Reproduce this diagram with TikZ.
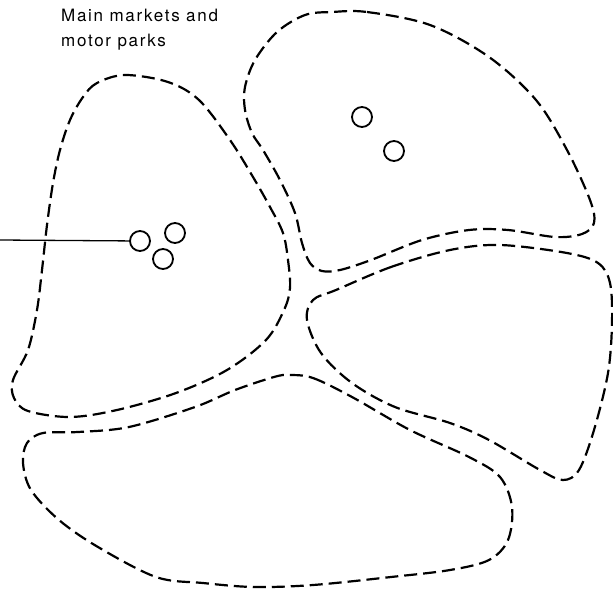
\documentclass[tikz,border=0pt]{standalone}
\usepackage{fontspec}
\newfontfamily\labelfont[LetterSpace=10]{TeX Gyre Heros}
\begin{document}
\begin{tikzpicture}[x=1pt, y=-1pt]
  \tikzset{zone/.style={line width=2.2pt, dash pattern=on 13pt off 6pt},
           mkt/.style={draw, circle, line width=1.8pt, minimum size=20pt, inner sep=0pt}}
  \useasboundingbox (0,0) rectangle (613,590);
  \node[anchor=base west, align=left, inner sep=0pt, font=\labelfont\fontsize{17}{25}\selectfont] (lbl) at (61,46.7) {Main markets and\\motor parks};
  \draw[zone] plot[smooth cycle, tension=0.55] coordinates {(125,75) (97,83) (83,97) (70,120) (60,150) (53,183) (47,225) (42,270) (37,310) (28,350) (13,380) (14,398) (28,411) (70,417) (117,410) (176,393) (227,370) (266,340) (284,310) (290,288) (288,260) (283,233) (270,207) (253,177) (230,140) (199,100) (168,82)};
  \draw[zone] plot[smooth cycle, tension=0.55] coordinates {(332,12) (367,12) (430,25) (489,57) (536,100) (567,150) (590,200) (594,223) (582,234) (555,237) (508,230) (469,230) (422,240) (371,260) (340,270) (322,271) (310,263) (302,243) (295,213) (280,180) (263,150) (252,133) (245,110) (245,87) (255,60) (277,32) (305,15)};
  \draw[zone] plot[smooth cycle, tension=0.55] coordinates {(336,290) (391,267) (450,250) (500,245) (567,253) (598,263) (610,283) (612,323) (608,373) (594,430) (579,470) (563,480) (540,470) (489,440) (450,423) (395,407) (352,383) (321,353) (307,320) (313,300)};
  \draw[zone] plot[smooth cycle, tension=0.55] coordinates {(289,375) (313,378) (352,397) (410,430) (469,457) (500,477) (512,507) (508,540) (489,560) (450,570) (391,577) (313,585) (254,587) (203,583) (156,577) (98,547) (59,520) (31,490) (23,463) (27,443) (43,433) (78,432) (129,427) (195,407) (235,390) (274,377)};
  \node[mkt] (m1) at (140,241) {};
  \node[mkt] (m2) at (175,233) {};
  \node[mkt] (m3) at (163,259) {};
  \node[mkt] (m4) at (362,117) {};
  \node[mkt] (m5) at (394,151) {};
  \coordinate (edge) at (0,240);
  \draw[line width=1.3pt] (edge) -- (m1);
\end{tikzpicture}
\end{document}
